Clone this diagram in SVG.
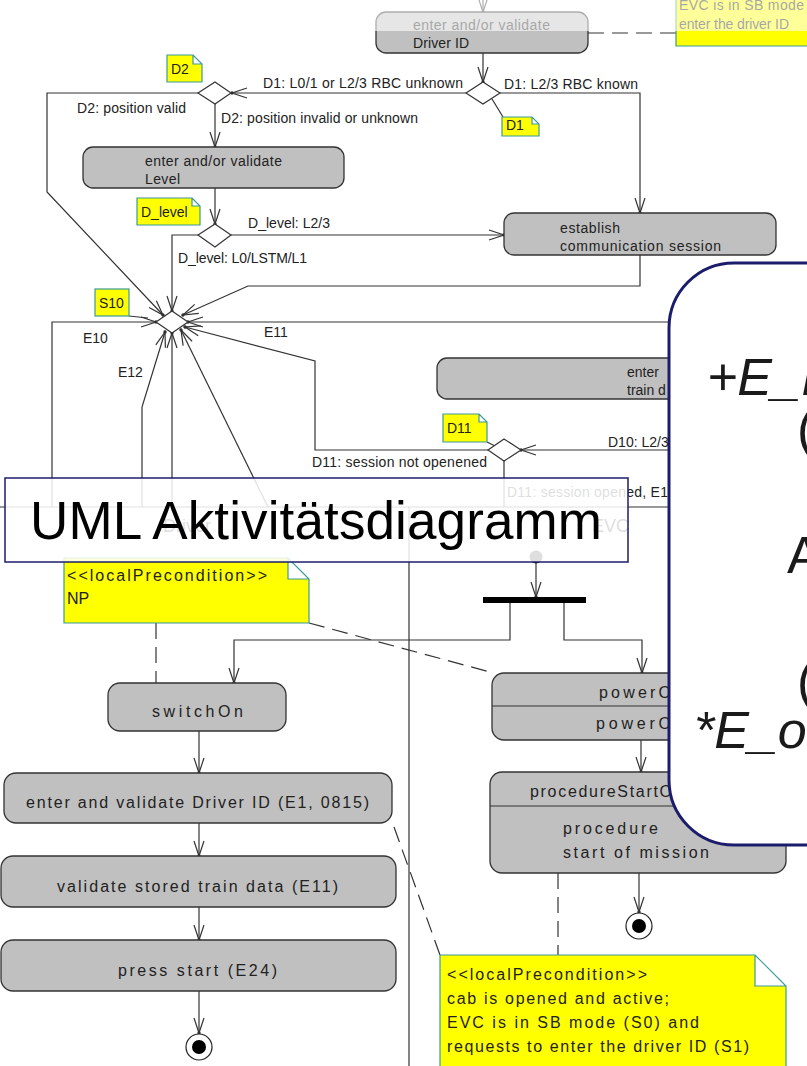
<svg xmlns="http://www.w3.org/2000/svg" width="807" height="1066" viewBox="0 0 807 1066">
<defs>
<style>
.lbl{font-family:"Liberation Sans",Arial,sans-serif;font-size:14px;fill:#222}
.t16{font-size:16px}
.lane{font-family:"Liberation Sans",Arial,sans-serif;font-size:18px;fill:#222}
.act{fill:#c0c0c0;stroke:#333;stroke-width:1.3}
.note{fill:#ffff00;stroke:#3a9a9a;stroke-width:1.2}
.dia{fill:#fff;stroke:#333;stroke-width:1.2}
.con{fill:none;stroke:#333;stroke-width:1.2}
.arr{fill:none;stroke:#333;stroke-width:1.2;marker-end:url(#ah)}
.dash{fill:none;stroke:#333;stroke-width:1.2;stroke-dasharray:16 8}
.big{font-family:"Liberation Sans",Arial,sans-serif;font-size:52px;fill:#1a1a1a}
</style>
<marker id="ah" markerUnits="userSpaceOnUse" markerWidth="20" markerHeight="14" viewBox="-17 -7 20 14" refX="0" refY="0" orient="auto" overflow="visible">
<path d="M-15,-5 L0,0 L-15,5" fill="none" stroke="#333" stroke-width="1.2"/>
<circle r="1.7" fill="#333"/>
</marker>
</defs>
<rect width="807" height="1066" fill="#fff"/>

<g id="swimlanes">
<line class="con" x1="0" y1="507" x2="807" y2="507"/>
<line class="con" x1="409" y1="507" x2="409" y2="1066"/>
<text class="lane" x="163" y="532">Driver</text>
<text class="lane" x="592" y="532">EVC</text>
</g>

<g id="connectors">
<path class="arr" d="M483,0 V12"/>
<path class="arr" d="M483,53 V82"/>
<path class="arr" d="M466,93 H232"/>
<path class="arr" d="M500,93 H640 V213"/>
<path class="arr" d="M215,104 V147"/>
<path class="arr" d="M198,93 H47 V192 L163,315"/>
<path class="arr" d="M215,188 V224"/>
<path class="arr" d="M231,235 H504"/>
<path class="arr" d="M198,235 H172 V311"/>
<path class="arr" d="M640,255 V286 H248 L183,315"/>
<path class="arr" d="M52,507 V322 H156"/>
<path class="arr" d="M142,507 V407 L165,332"/>
<path class="arr" d="M172,507 V333"/>
<path class="arr" d="M268,507 L181,330"/>
<path class="arr" d="M807,322 H188"/>
<path class="arr" d="M488,450 H315 V361 L185,327"/>
<path class="arr" d="M807,450 H521"/>
<path class="con" d="M504,461 V507"/>
<path class="arr" d="M536,563 V597"/>
<path class="arr" d="M510,603 V640 H234 V683"/>
<path class="arr" d="M564,603 V640 H642 V673"/>
<path class="arr" d="M199,731 V773"/>
<path class="arr" d="M199,823 V856"/>
<path class="arr" d="M199,907 V940"/>
<path class="arr" d="M199,991 V1033"/>
<path class="arr" d="M641,740 V772"/>
<path class="arr" d="M639,873 V912"/>
<path class="dash" d="M588,33 H676"/>
<path class="dash" d="M156,623 V683"/>
<path class="dash" d="M309,623 L490,672"/>
<path class="dash" d="M394,827 L440,955"/>
<path class="dash" d="M558,873 V955"/>
<path class="con" d="M492,99 L503,117"/>
<path class="con" d="M129,316 L148,318"/>
<path class="con" d="M487,442 L495,446"/>
</g>

<g id="driverId">
<rect class="act" x="376" y="12" width="212" height="41" rx="10"/>
<text class="lbl" x="413" y="30" textLength="137" lengthAdjust="spacing">enter and/or validate</text>
<text class="lbl" x="413" y="48" textLength="56" lengthAdjust="spacing">Driver ID</text>
</g>
<g id="noteTop">
<path class="note" d="M676,-10 H820 V46 H676 Z"/>
<text class="lbl" x="679" y="10" textLength="125" lengthAdjust="spacing">EVC is in SB mode</text>
<text class="lbl" x="679" y="29" textLength="110" lengthAdjust="spacing">enter the driver ID</text>
</g>
<g id="D1">
<polygon class="dia" points="483,82 500,93 483,104 466,93"/>
</g>
<g id="noteD1">
<path class="note" d="M502,117 H532 L539,124 V136 H502 Z M532,117 V124 H539"/>
<text class="lbl" x="506" y="130">D1</text>
</g>
<g id="D2">
<polygon class="dia" points="215,82 231,93 215,104 198,93"/>
</g>
<g id="noteD2">
<path class="note" d="M167,55 H193 L202,64 V82 H167 Z M193,55 V64 H202"/>
<text class="lbl" x="171" y="74">D2</text>
</g>
<g id="level">
<rect class="act" x="83" y="147" width="261" height="41" rx="10"/>
<text class="lbl" x="145" y="166" textLength="137" lengthAdjust="spacing">enter and/or validate</text>
<text class="lbl" x="145" y="184" textLength="35" lengthAdjust="spacing">Level</text>
</g>
<g id="Dlevel">
<polygon class="dia" points="215,224 231,235 215,247 198,235"/>
</g>
<g id="noteDlevel">
<path class="note" d="M137,198 H192 L200,206 V225 H137 Z M192,198 V206 H200"/>
<text class="lbl" x="141" y="217">D_level</text>
</g>
<g id="establish">
<rect class="act" x="504" y="213" width="272" height="42" rx="10"/>
<text class="lbl" x="560" y="233" textLength="60" lengthAdjust="spacing">establish</text>
<text class="lbl" x="560" y="251" textLength="161" lengthAdjust="spacing">communication session</text>
</g>
<g id="S10">
<polygon class="dia" points="172,311 188,322 172,333 156,322"/>
</g>
<g id="noteS10">
<rect class="note" x="95" y="289" width="34" height="27"/>
<text class="lbl" x="99" y="308">S10</text>
</g>
<g id="trainData">
<rect class="act" x="437" y="358" width="320" height="41" rx="10"/>
<text class="lbl" x="627" y="377">enter</text>
<text class="lbl" x="627" y="395">train d</text>
</g>
<g id="D11">
<polygon class="dia" points="504,439 521,450 504,461 488,450"/>
</g>
<g id="noteD11">
<path class="note" d="M443,414 H479 L487,422 V442 H443 Z M479,414 V422 H487"/>
<text class="lbl" x="447" y="433">D11</text>
</g>

<g id="labels">
<text class="lbl" x="263" y="88" textLength="200" lengthAdjust="spacing">D1: L0/1 or L2/3 RBC unknown</text>
<text class="lbl" x="504" y="89" textLength="134" lengthAdjust="spacing">D1: L2/3 RBC known</text>
<text class="lbl" x="77" y="113" textLength="109" lengthAdjust="spacing">D2: position valid</text>
<text class="lbl" x="221" y="123" textLength="197" lengthAdjust="spacing">D2: position invalid or unknown</text>
<text class="lbl" x="248" y="228" textLength="82" lengthAdjust="spacing">D_level: L2/3</text>
<text class="lbl" x="178" y="263" textLength="129" lengthAdjust="spacing">D_level: L0/LSTM/L1</text>
<text class="lbl" x="83" y="343">E10</text>
<text class="lbl" x="118" y="377">E12</text>
<text class="lbl" x="264" y="337">E11</text>
<text class="lbl" x="312" y="467" textLength="175" lengthAdjust="spacing">D11: session not openened</text>
<text class="lbl" x="608" y="447">D10: L2/3</text>
<text class="lbl" x="507" y="497" textLength="161" lengthAdjust="spacing">D11: session opened, E1</text>
</g>

<g id="initial"><circle cx="536" cy="557" r="6.5" fill="#222"/></g>
<g id="fork"><rect x="483" y="597" width="103" height="6" fill="#000"/></g>

<g id="noteNP">
<path class="note" d="M64,558 H288 L309,579 V623 H64 Z M288,558 V579 H309"/>
<text class="lbl t16" x="67" y="581" textLength="200" lengthAdjust="spacing">&lt;&lt;localPrecondition&gt;&gt;</text>
<text class="lbl t16" x="67" y="604">NP</text>
</g>
<g id="switchOn">
<rect class="act" x="108" y="683" width="178" height="48" rx="12"/>
<text class="lbl t16" x="152" y="717" textLength="91" lengthAdjust="spacing">switchOn</text>
</g>
<g id="enterDriverId">
<rect class="act" x="4" y="773" width="388" height="50" rx="12"/>
<text class="lbl t16" x="26" y="808" textLength="343" lengthAdjust="spacing">enter and validate Driver ID (E1, 0815)</text>
</g>
<g id="validateTrainData">
<rect class="act" x="1" y="856" width="395" height="51" rx="12"/>
<text class="lbl t16" x="57" y="892" textLength="281" lengthAdjust="spacing">validate stored train data (E11)</text>
</g>
<g id="pressStart">
<rect class="act" x="1" y="940" width="395" height="51" rx="12"/>
<text class="lbl t16" x="118" y="976" textLength="159" lengthAdjust="spacing">press start (E24)</text>
</g>
<g id="final1">
<circle cx="199" cy="1047" r="13" fill="#fff" stroke="#222" stroke-width="1.2"/>
<circle cx="199" cy="1047" r="7" fill="#000"/>
</g>
<g id="powerOn">
<rect class="act" x="492" y="673" width="300" height="67" rx="12"/>
<line class="con" x1="492" y1="706" x2="792" y2="706"/>
<text class="lbl t16" x="599" y="698" textLength="72" lengthAdjust="spacing">powerO</text>
<text class="lbl t16" x="596" y="729" textLength="75" lengthAdjust="spacing">powerO</text>
</g>
<g id="procedure">
<rect class="act" x="490" y="772" width="296" height="101" rx="12"/>
<line class="con" x1="490" y1="806" x2="786" y2="806"/>
<text class="lbl t16" x="530" y="797" textLength="142" lengthAdjust="spacing">procedureStartO</text>
<text class="lbl t16" x="563" y="834" textLength="95" lengthAdjust="spacing">procedure</text>
<text class="lbl t16" x="563" y="858" textLength="146" lengthAdjust="spacing">start of mission</text>
</g>
<g id="final2">
<circle cx="639" cy="926" r="13" fill="#fff" stroke="#222" stroke-width="1.2"/>
<circle cx="639" cy="926" r="7" fill="#000"/>
</g>
<g id="noteBottom">
<path class="note" d="M440,955 H755 L786,986 V1075 H440 Z M755,955 V986 H786"/>
<text class="lbl t16" x="447" y="980" textLength="200" lengthAdjust="spacing">&lt;&lt;localPrecondition&gt;&gt;</text>
<text class="lbl t16" x="447" y="1004" textLength="222" lengthAdjust="spacing">cab is opened and active;</text>
<text class="lbl t16" x="447" y="1028" textLength="252" lengthAdjust="spacing">EVC is in SB mode (S0) and</text>
<text class="lbl t16" x="447" y="1052" textLength="302" lengthAdjust="spacing">requests to enter the driver ID (S1)</text>
</g>

<rect x="0" y="0" width="807" height="31" fill="#fff" fill-opacity="0.6"/>

<g id="title">
<rect x="5" y="478" width="623" height="84" fill="#fff" fill-opacity="0.85" stroke="#1c1c6c" stroke-width="1.5"/>
<text x="30" y="539" font-family="Liberation Sans, Arial, sans-serif" font-size="53" fill="#000" textLength="572" lengthAdjust="spacing">UML Aktivitätsdiagramm</text>
</g>

<g id="panel">
<rect x="669" y="263" width="220" height="582" rx="65" fill="#fff" stroke="#1c1c6c" stroke-width="3"/>
<text class="big" x="707" y="395" font-style="italic">+E_I</text>
<text class="big" x="797" y="447">(</text>
<text class="big" x="787" y="573">A</text>
<text class="big" x="797" y="699">(</text>
<text class="big" x="694" y="748" font-style="italic">*E_o</text>
</g>
</svg>
